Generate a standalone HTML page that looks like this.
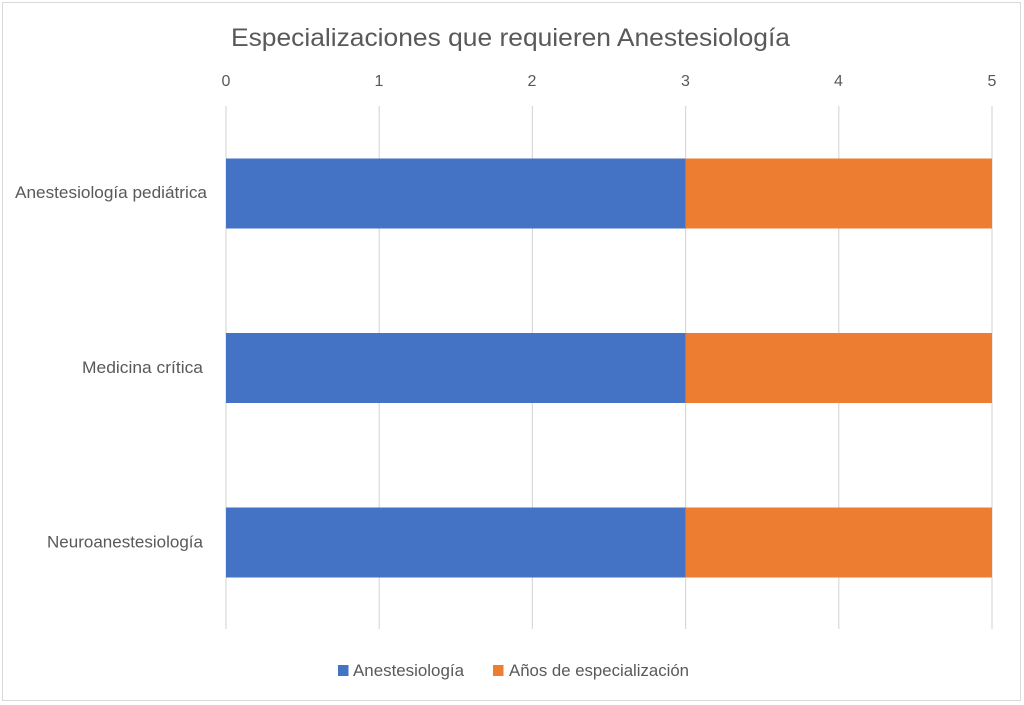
<!DOCTYPE html>
<html><head><meta charset="utf-8"><style>
html,body{margin:0;padding:0;background:#fff;}
svg{display:block;}
text{font-family:"Liberation Sans",sans-serif;fill:#595959;}
</style></head><body>
<svg width="1024" height="705" viewBox="0 0 1024 705" xmlns="http://www.w3.org/2000/svg">
<rect x="0" y="0" width="1024" height="705" fill="#fff"/>
<rect x="2.5" y="2.5" width="1018" height="698" fill="none" stroke="#D9D9D9" stroke-width="1"/>
<text x="231" y="46" font-size="25" textLength="559" lengthAdjust="spacingAndGlyphs">Especializaciones que requieren Anestesiología</text>
<g font-size="16" text-anchor="middle">
<text x="226" y="86">0</text>
<text x="379" y="86">1</text>
<text x="532" y="86">2</text>
<text x="685.5" y="86">3</text>
<text x="838.5" y="86">4</text>
<text x="992" y="86">5</text>
</g>
<g stroke="#D9D9D9" stroke-width="1.2">
<line x1="226" y1="106" x2="226" y2="629"/>
<line x1="379.2" y1="106" x2="379.2" y2="629"/>
<line x1="532.4" y1="106" x2="532.4" y2="629"/>
<line x1="685.6" y1="106" x2="685.6" y2="629"/>
<line x1="838.8" y1="106" x2="838.8" y2="629"/>
<line x1="992" y1="106" x2="992" y2="629"/>
</g>
<rect x="226" y="158.5" width="459.6" height="70" fill="#4472C4"/>
<rect x="685.6" y="158.5" width="306.4" height="70" fill="#ED7D31"/>
<rect x="226" y="333" width="459.6" height="70" fill="#4472C4"/>
<rect x="685.6" y="333" width="306.4" height="70" fill="#ED7D31"/>
<rect x="226" y="507.5" width="459.6" height="70" fill="#4472C4"/>
<rect x="685.6" y="507.5" width="306.4" height="70" fill="#ED7D31"/>
<g font-size="17">
<text x="15" y="198" textLength="192" lengthAdjust="spacingAndGlyphs">Anestesiología pediátrica</text>
<text x="82" y="373" textLength="121" lengthAdjust="spacingAndGlyphs">Medicina crítica</text>
<text x="47" y="547.5" textLength="156" lengthAdjust="spacingAndGlyphs">Neuroanestesiología</text>
</g>
<rect x="338" y="665" width="10.5" height="11" fill="#4472C4"/>
<text x="353" y="676" font-size="17" textLength="111" lengthAdjust="spacingAndGlyphs">Anestesiología</text>
<rect x="493" y="665" width="10.5" height="11" fill="#ED7D31"/>
<text x="509" y="676" font-size="17" textLength="180" lengthAdjust="spacingAndGlyphs">Años de especialización</text>
</svg>
</body></html>
